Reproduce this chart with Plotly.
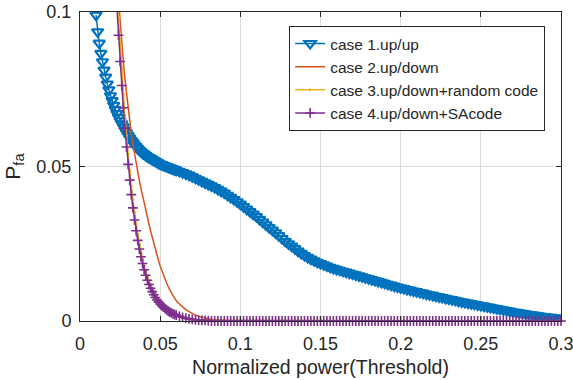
import plotly.graph_objects as go

# Threshold sampling grid (fine near the knee, coarser afterwards)
THRESH_FINE = [round(0.010 + 0.001 * i, 3) for i in range(51)]     # 0.010 .. 0.060
THRESH_COARSE = [round(0.062 + 0.002 * i, 3) for i in range(120)]  # 0.062 .. 0.300
THRESH = THRESH_FINE + THRESH_COARSE

SERIES_NAMES = ["case 1.up/up", "case 2.up/down",
                "case 3.up/down+random code", "case 4.up/down+SAcode"]

# case 1.up/up
CASE1_FINE = [
    0.0990, 0.0936, 0.0899, 0.0866, 0.0839, 0.0812, 0.0789, 0.0767, 0.0748, 0.0729,
    0.0713, 0.0698, 0.0684, 0.0671, 0.0659, 0.0648, 0.0638, 0.0628, 0.0618, 0.0609,
    0.0600, 0.0592, 0.0584, 0.0577, 0.0570, 0.0564, 0.0558, 0.0553, 0.0548, 0.0543,
    0.0540, 0.0536, 0.0532, 0.0529, 0.0526, 0.0523, 0.0520, 0.0517, 0.0514, 0.0511,
    0.0508, 0.0506, 0.0504, 0.0502, 0.0500, 0.0498, 0.0496, 0.0494, 0.0492, 0.0490,
    0.0488,
]
CASE1_COARSE = [
    0.0484, 0.0480, 0.0476, 0.0472, 0.0467, 0.0462, 0.0457, 0.0452, 0.0447, 0.0442,
    0.0437, 0.0432, 0.0426, 0.0420, 0.0414, 0.0407, 0.0400, 0.0393, 0.0386, 0.0378,
    0.0370, 0.0362, 0.0354, 0.0346, 0.0338, 0.0329, 0.0320, 0.0311, 0.0302, 0.0294,
    0.0285, 0.0276, 0.0267, 0.0258, 0.0250, 0.0242, 0.0234, 0.0226, 0.0219, 0.0212,
    0.0206, 0.0200, 0.0195, 0.0190, 0.0186, 0.0182, 0.0178, 0.0174, 0.0170, 0.0167,
    0.0164, 0.0161, 0.0158, 0.0155, 0.0152, 0.0149, 0.0146, 0.0143, 0.0140, 0.0137,
    0.0134, 0.0131, 0.0128, 0.0125, 0.0122, 0.0119, 0.0116, 0.0113, 0.0110, 0.0107,
    0.0105, 0.0102, 0.0100, 0.0097, 0.0095, 0.0092, 0.0090, 0.0087, 0.0085, 0.0083,
    0.0080, 0.0078, 0.0076, 0.0073, 0.0071, 0.0069, 0.0067, 0.0064, 0.0062, 0.0060,
    0.0058, 0.0056, 0.0054, 0.0052, 0.0050, 0.0048, 0.0046, 0.0044, 0.0042, 0.0040,
    0.0038, 0.0036, 0.0034, 0.0032, 0.0030, 0.0028, 0.0026, 0.0025, 0.0023, 0.0021,
    0.0020, 0.0018, 0.0017, 0.0015, 0.0014, 0.0013, 0.0012, 0.0010, 0.0009, 0.0008,
]

# case 2.up/down
CASE2_FINE = [
    None, None, None, None, None, None, None, None, None, None,
    None, None, None, 0.1110, 0.1035, 0.0965, 0.0900, 0.0840, 0.0785, 0.0735,
    0.0685, 0.0640, 0.0605, 0.0572, 0.0540, 0.0510, 0.0482, 0.0455, 0.0430, 0.0405,
    0.0381, 0.0358, 0.0336, 0.0314, 0.0292, 0.0271, 0.0251, 0.0232, 0.0213, 0.0195,
    0.0178, 0.0163, 0.0149, 0.0136, 0.0123, 0.0111, 0.0100, 0.0091, 0.0082, 0.0074,
    0.0066,
]
CASE2_COARSE = [
    0.0055, 0.0045, 0.0037, 0.0030, 0.0024, 0.0019, 0.0015, 0.0012, 0.0009, 0.0007,
    0.0005, 0.0004, 0.0003, 0.0002, 0.0001, 0.0001, 0, 0, 0, 0,
    0, 0, 0, 0, 0, 0, 0, 0, 0, 0,
    0, 0, 0, 0, 0, 0, 0, 0, 0, 0,
    0, 0, 0, 0, 0, 0, 0, 0, 0, 0,
    0, 0, 0, 0, 0, 0, 0, 0, 0, 0,
    0, 0, 0, 0, 0, 0, 0, 0, 0, 0,
    0, 0, 0, 0, 0, 0, 0, 0, 0, 0,
    0, 0, 0, 0, 0, 0, 0, 0, 0, 0,
    0, 0, 0, 0, 0, 0, 0, 0, 0, 0,
    0, 0, 0, 0, 0, 0, 0, 0, 0, 0,
    0, 0, 0, 0, 0, 0, 0, 0, 0, 0,
]

# case 3.up/down+random code
CASE3_FINE = [
    None, None, None, None, None, None, None, None, None, None,
    None, None, None, 0.1070, 0.0985, 0.0895, 0.0812, 0.0735, 0.0665, 0.0600,
    0.0541, 0.0487, 0.0437, 0.0392, 0.0351, 0.0314, 0.0281, 0.0251, 0.0224, 0.0200,
    0.0179, 0.0160, 0.0143, 0.0128, 0.0114, 0.0102, 0.0091, 0.0081, 0.0073, 0.0065,
    0.0058, 0.0052, 0.0046, 0.0041, 0.0037, 0.0033, 0.0029, 0.0026, 0.0023, 0.0021,
    0.0019,
]
CASE3_COARSE = [
    0.0015, 0.0012, 0.0009, 0.0007, 0.0005, 0.0004, 0.0003, 0.0002, 0.0002, 0.0001,
    0, 0, 0, 0, 0, 0, 0, 0, 0, 0,
    0, 0, 0, 0, 0, 0, 0, 0, 0, 0,
    0, 0, 0, 0, 0, 0, 0, 0, 0, 0,
    0, 0, 0, 0, 0, 0, 0, 0, 0, 0,
    0, 0, 0, 0, 0, 0, 0, 0, 0, 0,
    0, 0, 0, 0, 0, 0, 0, 0, 0, 0,
    0, 0, 0, 0, 0, 0, 0, 0, 0, 0,
    0, 0, 0, 0, 0, 0, 0, 0, 0, 0,
    0, 0, 0, 0, 0, 0, 0, 0, 0, 0,
    0, 0, 0, 0, 0, 0, 0, 0, 0, 0,
    0, 0, 0, 0, 0, 0, 0, 0, 0, 0,
]

# case 4.up/down+SAcode
CASE4_FINE = [
    None, None, None, None, None, None, None, None, None, None,
    None, None, None, 0.1015, 0.0925, 0.0840, 0.0762, 0.0690, 0.0624, 0.0563,
    0.0507, 0.0456, 0.0409, 0.0366, 0.0327, 0.0292, 0.0261, 0.0233, 0.0208, 0.0186,
    0.0166, 0.0148, 0.0132, 0.0118, 0.0106, 0.0095, 0.0085, 0.0076, 0.0068, 0.0061,
    0.0055, 0.0050, 0.0045, 0.0040, 0.0036, 0.0032, 0.0029, 0.0026, 0.0023, 0.0021,
    0.0019,
]
CASE4_COARSE = [
    0.0015, 0.0012, 0.0009, 0.0007, 0.0005, 0.0004, 0.0003, 0.0002, 0.0002, 0.0001,
    0, 0, 0, 0, 0, 0, 0, 0, 0, 0,
    0, 0, 0, 0, 0, 0, 0, 0, 0, 0,
    0, 0, 0, 0, 0, 0, 0, 0, 0, 0,
    0, 0, 0, 0, 0, 0, 0, 0, 0, 0,
    0, 0, 0, 0, 0, 0, 0, 0, 0, 0,
    0, 0, 0, 0, 0, 0, 0, 0, 0, 0,
    0, 0, 0, 0, 0, 0, 0, 0, 0, 0,
    0, 0, 0, 0, 0, 0, 0, 0, 0, 0,
    0, 0, 0, 0, 0, 0, 0, 0, 0, 0,
    0, 0, 0, 0, 0, 0, 0, 0, 0, 0,
    0, 0, 0, 0, 0, 0, 0, 0, 0, 0,
]

X_TICKS = [0, 0.05, 0.1, 0.15, 0.2, 0.25, 0.3]
X_TICK_TEXT = ["0", "0.05", "0.1", "0.15", "0.2", "0.25", "0.3"]
Y_TICKS = [0, 0.05, 0.1]
Y_TICK_TEXT = ["0", "0.05", "0.1"]

BLUE, ORANGE, YELLOW, PURPLE = "#0072BD", "#D95319", "#EDB120", "#7E2F8E"
FONT = "Arial, Liberation Sans, Arimo, sans-serif"
INK = "#262626"

fig = go.Figure()
fig.add_trace(go.Scatter(
    x=THRESH, y=CASE1_FINE + CASE1_COARSE, name=SERIES_NAMES[0],
    mode="lines+markers", line=dict(color=BLUE, width=1.5),
    marker=dict(symbol="triangle-down-open", size=10, color=BLUE,
                line=dict(color=BLUE, width=2.2))))
fig.add_trace(go.Scatter(
    x=THRESH, y=CASE2_FINE + CASE2_COARSE, name=SERIES_NAMES[1],
    mode="lines", line=dict(color=ORANGE, width=1.5)))
fig.add_trace(go.Scatter(
    x=THRESH, y=CASE3_FINE + CASE3_COARSE, name=SERIES_NAMES[2],
    mode="lines+markers", line=dict(color=YELLOW, width=1.5),
    marker=dict(symbol="circle", size=3, color=YELLOW)))
fig.add_trace(go.Scatter(
    x=THRESH, y=CASE4_FINE + CASE4_COARSE, name=SERIES_NAMES[3],
    mode="lines+markers", line=dict(color=PURPLE, width=1.5),
    cliponaxis=False,
    marker=dict(symbol="cross-thin-open", size=7, color=PURPLE,
                line=dict(color=PURPLE, width=1.6))))

axis_common = dict(
    showline=True, linecolor=INK, linewidth=1, mirror="ticks",
    ticks="inside", ticklen=5, tickcolor=INK, tickwidth=1,
    showgrid=True, gridcolor="#dcdcdc", gridwidth=1, zeroline=False,
    automargin=False, ticklabeloverflow="allow",
    tickfont=dict(family=FONT, size=18, color=INK),
)

fig.update_layout(
    width=573, height=380,
    margin=dict(l=80, r=12, t=12, b=59),
    paper_bgcolor="white", plot_bgcolor="white",
    font=dict(family=FONT, color=INK),
    xaxis=dict(range=[0, 0.3], tickvals=X_TICKS, ticktext=X_TICK_TEXT,
               title=dict(text="Normalized power(Threshold)",
                          font=dict(family=FONT, size=19.5, color=INK), standoff=7),
               ticklabelstandoff=6, **axis_common),
    yaxis=dict(range=[0, 0.1], tickvals=Y_TICKS, ticktext=Y_TICK_TEXT,
               title=dict(text="P<sub>fa</sub>",
                          font=dict(family=FONT, size=21, color=INK), standoff=10),
               ticklabelstandoff=4, **axis_common),
    legend=dict(x=0.967, y=0.955, xanchor="right", yanchor="top",
                bgcolor="white", bordercolor=INK, borderwidth=1,
                font=dict(family=FONT, size=15.5, color=INK),
                tracegroupgap=0, itemwidth=30),
    showlegend=True,
)

fig.write_html("out.html", config={"displayModeBar": False},
               post_script="document.body.style.margin='0';"
                           "document.body.style.overflow='hidden';")
